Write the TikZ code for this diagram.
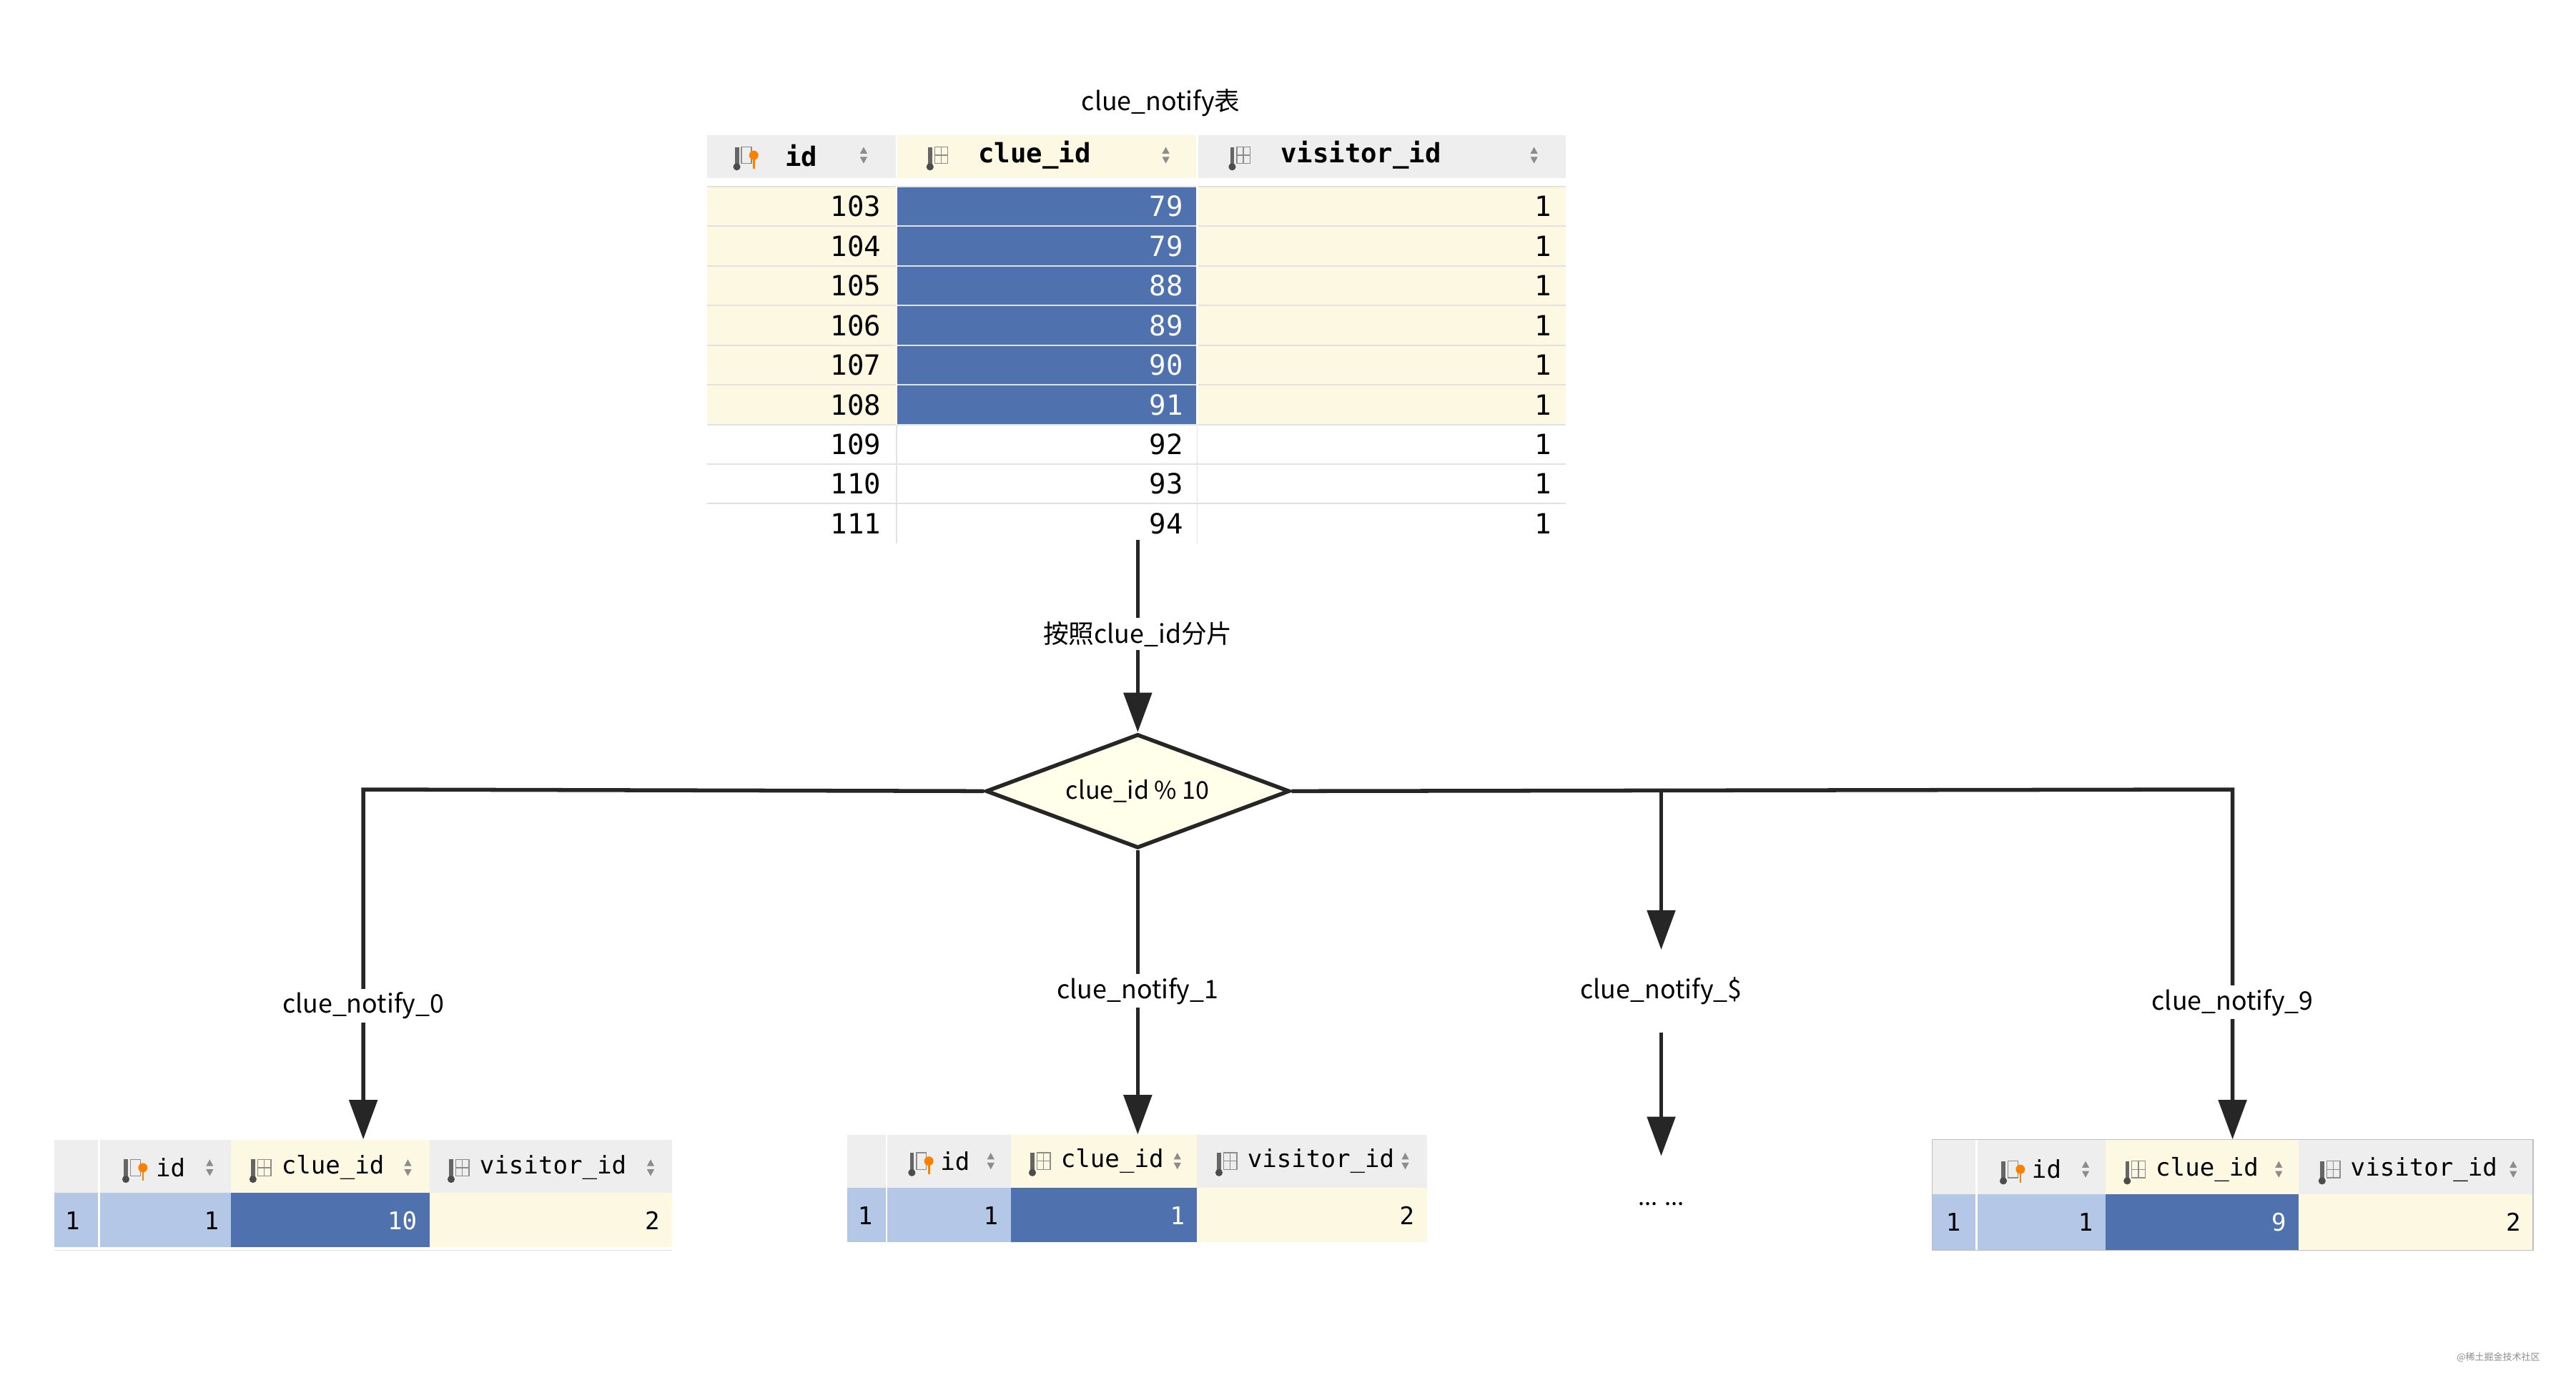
\documentclass[tikz,border=0pt]{standalone}
\usepackage{fontspec}
\setmainfont{Noto Sans CJK SC}
\newfontfamily\mono{DejaVu Sans Mono}
\usetikzlibrary{shapes.geometric,arrows.meta}
\definecolor{bl}{HTML}{4F72AE}
\definecolor{yl}{HTML}{FDF8E1}
\definecolor{lb}{HTML}{B4C7E7}
\definecolor{hd}{HTML}{EEEEEE}
\definecolor{gl}{HTML}{E2E2E2}
\definecolor{df}{HTML}{FFFFEA}
\begin{document}
\begin{tikzpicture}[x=0.05cm,y=-0.05cm,
  lbl/.style={font=\fontsize{22}{26}\selectfont, fill=white, inner sep=3pt},
  arr/.style={line width=3.4pt, draw=black!85, -{Triangle[length=34pt,width=24pt]}},
  tt/.style={font=\mono\fontsize{24}{28}\selectfont},
  th/.style={font=\mono\bfseries\fontsize{23}{28}\selectfont},
  st/.style={font=\mono\fontsize{21}{24}\selectfont},
  icon/.pic={\fill[black!60] (0,-5) rectangle (2.5,6); \fill[black!70] (1.2,7) circle (2.2);
    \draw[black!45,line width=0.9pt] (4,-5) rectangle (12,5) (4,0)--(12,0) (8,-5)--(8,5);},
  keyicon/.pic={\fill[black!60] (0,-5) rectangle (2.5,6); \fill[black!70] (1.2,7) circle (2.2);
    \draw[black!45,line width=0.9pt] (4,-5) rectangle (10,5); \fill[orange] (11.5,0) circle (2.8); \fill[orange] (11,0) rectangle (12.2,8);},
  sorter/.pic={\fill[black!45] (-2.2,-1)--(2.2,-1)--(0,-5)--cycle; \fill[black!45] (-2.2,1)--(2.2,1)--(0,5)--cycle;}
]
\useasboundingbox[fill=white] (0,0) rectangle (1560,843);

% ---------- top table ----------
\node[font=\fontsize{22}{26}\selectfont] (title) at (703,62) {clue\_notify表};
\fill[hd] (428,82) rectangle (948,108);
\fill[yl] (543,82) rectangle (725,108);
\fill[white] (428,108) rectangle (948,113);
\foreach \v [count=\i from 0] in {103,...,111}{
  \pgfmathsetmacro{\yt}{113+24*\i}
  \ifnum\i<6
    \fill[yl] (428,\yt) rectangle (948,\yt+24);
    \fill[bl] (543,\yt) rectangle (725,\yt+24);
  \fi
  \draw[gl,line width=1.2pt] (428,\yt) -- (948,\yt);
}
\foreach \v/\c [count=\i from 0] in {103/79,104/79,105/88,106/89,107/90,108/91,109/92,110/93,111/94}{
  \pgfmathsetmacro{\yc}{125+24*\i}
  \node[tt,anchor=east] at (536,\yc) {\v};
  \ifnum\i<6 \node[tt,anchor=east,text=white] at (719,\yc) {\c};
  \else \node[tt,anchor=east] at (719,\yc) {\c}; \fi
  \node[tt,anchor=east] at (942,\yc) {1};
}
\draw[white,line width=1.4pt] (543,82)--(543,257) (725,82)--(725,257);
\draw[gl,line width=1pt] (543,257)--(543,329) (725,257)--(725,329);
\pic at (445,94) {keyicon};
\node[th,anchor=west] at (473,94) {id};
\pic at (523,94) {sorter};
\pic at (562,94) {icon};
\node[th,anchor=west] at (590,94) {clue\_id};
\pic at (706,94) {sorter};
\pic at (745,94) {icon};
\node[th,anchor=west] at (773,94) {visitor\_id};
\pic at (929,94) {sorter};
\coordinate (tb) at (689,327);

% ---------- diamond ----------
\node[diamond, draw=black!85, line width=3.4pt, fill=df, minimum width=184*0.05cm, minimum height=69*0.05cm, inner sep=0pt, aspect=2.67,
  font=\fontsize{21}{25}\selectfont] (d) at (689,479) {clue\_id \% 10};

\draw[arr] (tb) -- (d.north);
\node[lbl] (shard) at (689,384) {按照clue\_id分片};

% ---------- bottom tables ----------
\fill[hd] (33,690) rectangle (407,722);
\fill[yl] (140,690) rectangle (260,722);
\fill[lb] (33,722) rectangle (140,755);
\fill[bl] (140,722) rectangle (260,755);
\fill[yl] (260,722) rectangle (407,755);
\draw[white,line width=1.5pt] (60,690)--(60,755);
\draw[gl,line width=0.8pt] (33,757)--(407,757);
\node[st,anchor=west] at (37,739) {1};
\node[st,anchor=east] at (135,739) {1};
\node[st,anchor=east,text=white] at (255,739) {10};
\node[st,anchor=east] at (402,739) {2};
\pic at (75,707) {keyicon}; \node[st,anchor=west] at (92,707) {id}; \pic at (127,707) {sorter};
\pic at (152,707) {icon}; \node[st,anchor=west] at (168,707) {clue\_id}; \pic at (247,707) {sorter};
\pic at (272,707) {icon}; \node[st,anchor=west] at (288,707) {visitor\_id}; \pic at (394,707) {sorter};
\node[inner sep=0pt,minimum width=374*0.05cm,minimum height=65*0.05cm] (t0) at (220,722.5) {};

\fill[hd] (513,687) rectangle (864,719);
\fill[yl] (612,687) rectangle (725,719);
\fill[lb] (513,719) rectangle (612,752);
\fill[bl] (612,719) rectangle (725,752);
\fill[yl] (725,719) rectangle (864,752);
\draw[white,line width=1.5pt] (537,687)--(537,752);
\node[st,anchor=west] at (517,736) {1};
\node[st,anchor=east] at (607,736) {1};
\node[st,anchor=east,text=white] at (720,736) {1};
\node[st,anchor=east] at (859,736) {2};
\pic at (551,703) {keyicon}; \node[st,anchor=west] at (567,703) {id}; \pic at (600,703) {sorter};
\pic at (624,703) {icon}; \node[st,anchor=west] at (640,703) {clue\_id}; \pic at (713,703) {sorter};
\pic at (737,703) {icon}; \node[st,anchor=west] at (753,703) {visitor\_id}; \pic at (851,703) {sorter};
\node[inner sep=0pt,minimum width=351*0.05cm,minimum height=65*0.05cm] (t1) at (689,719.5) {};

\fill[hd] (1170,690) rectangle (1534,723);
\fill[yl] (1275,690) rectangle (1392,723);
\fill[lb] (1170,723) rectangle (1275,757);
\fill[bl] (1275,723) rectangle (1392,757);
\fill[yl] (1392,723) rectangle (1534,757);
\draw[white,line width=1.5pt] (1197,690)--(1197,757);
\draw[black!25,line width=0.8pt] (1170,690) rectangle (1534,757);
\node[st,anchor=west] at (1176,740) {1};
\node[st,anchor=east] at (1270,740) {1};
\node[st,anchor=east,text=white] at (1387,740) {9};
\node[st,anchor=east] at (1529,740) {2};
\pic at (1212,708) {keyicon}; \node[st,anchor=west] at (1228,708) {id}; \pic at (1263,708) {sorter};
\pic at (1287,708) {icon}; \node[st,anchor=west] at (1303,708) {clue\_id}; \pic at (1380,708) {sorter};
\pic at (1405,708) {icon}; \node[st,anchor=west] at (1421,708) {visitor\_id}; \pic at (1522,708) {sorter};
\node[inner sep=0pt,minimum width=364*0.05cm,minimum height=67*0.05cm] (t9) at (1352,723.5) {};

% ---------- connectors ----------
\coordinate (cl) at (220,478);
\coordinate (cr) at (1352,478);
\coordinate (cm) at (1006,478);
\coordinate (dd1) at (1006,575);
\coordinate (dd2) at (1006,625);
\coordinate (dd3) at (1006,700);
\draw[arr] (d.west) -- (cl) -- (t0.north);
\draw[arr] (d.south) -- (t1.north);
\draw[arr] (d.east) -- (cr) -- (t9.north);
\draw[arr] (cm) -- (dd1);
\draw[arr] (dd2) -- (dd3);

\node[lbl] (l0) at (220,609) {clue\_notify\_0};
\node[lbl] (l1) at (689,600) {clue\_notify\_1};
\node[lbl] (l9) at (1352,607) {clue\_notify\_9};
\node[lbl] (ld) at (1006,600) {clue\_notify\_\$};
\node[font=\fontsize{20}{24}\selectfont] (dots) at (1006,729) {... ...};
\node[font=\fontsize{8}{10}\selectfont, text=black!45] (wm) at (1513,822) {@稀土掘金技术社区};
\end{tikzpicture}
\end{document}
